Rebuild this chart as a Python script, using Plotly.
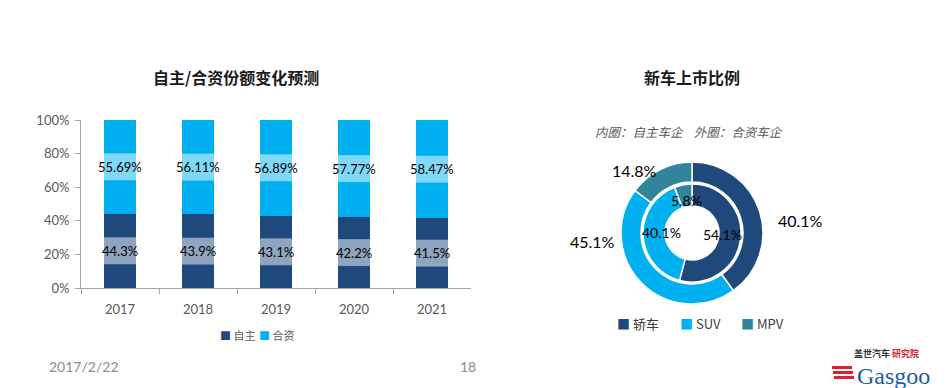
import math
import plotly.graph_objects as go

# ---------------- data ----------------
years = ["2017", "2018", "2019", "2020", "2021"]
own_share = [44.3, 43.9, 43.1, 42.2, 41.5]          # 自主
jv_share = [55.69, 56.11, 56.89, 57.77, 58.47]      # 合资
own_labels = ["44.3%", "43.9%", "43.1%", "42.2%", "41.5%"]
jv_labels = ["55.69%", "56.11%", "56.89%", "57.77%", "58.47%"]
y_ticks = [0, 20, 40, 60, 80, 100]
y_tick_text = ["0%", "20%", "40%", "60%", "80%", "100%"]

car_types = ["轿车", "SUV", "MPV"]
inner_own = [54.1, 40.1, 5.8]      # 内圈：自主车企
outer_jv = [40.1, 45.1, 14.8]      # 外圈：合资车企

C_DARK = "#1F497D"
C_LIGHT = "#00B0F0"
C_TEAL = "#31849B"
PIE_COLORS = [C_DARK, C_LIGHT, C_TEAL]
W, H = 947, 388
OFF = 8  # page body margin
FONT = "Lato, Noto Sans CJK SC, sans-serif"
CJK = "Noto Sans CJK SC, sans-serif"
BARGAP = 0.59

# layout-only positions (pixels) for the outer ring labels
outer_label_pos = [(800, 220), (592, 241), (634, 171)]


def px(x):
    return (x - OFF) / W


def py(y):
    return (H + OFF - y) / H


def txt(x, y, text, size, color="#000000", family=FONT, xa="center", ya="middle"):
    return dict(x=px(x), y=py(y), xref="paper", yref="paper", text=text, showarrow=False,
                xanchor=xa, yanchor=ya, font=dict(family=family, size=size, color=color))


fig = go.Figure()

fig.add_trace(go.Bar(x=years, y=own_share, name="自主", marker_color=C_DARK,
                     marker_line_width=0, showlegend=False))
fig.add_trace(go.Bar(x=years, y=jv_share, name="合资", marker_color=C_LIGHT,
                     marker_line_width=0, showlegend=False))

annotations = []
shapes = []
# value labels with translucent boxes (x given as category index)
half_w = (1 - BARGAP) / 2
for i, yr in enumerate(years):
    for yv, t in ((own_share[i] / 2, own_labels[i]),
                  (own_share[i] + jv_share[i] / 2, jv_labels[i])):
        shapes.append(dict(type="rect", xref="x", yref="y", x0=i - half_w, x1=i + half_w,
                           y0=yv - 8, y1=yv + 8, fillcolor="rgba(255,255,255,0.5)",
                           line_width=0, layer="above"))
        annotations.append(dict(x=i, y=yv, xref="x", yref="y", text=t,
                                showarrow=False, xanchor="center", yanchor="middle",
                                font=dict(family=FONT, size=13, color="#000000")))

# donut
cx, cy = 692, 233
r_out, r_in = 71, 49
fig.add_trace(go.Pie(labels=car_types, values=outer_jv, sort=False, direction="clockwise",
                     rotation=0, hole=51 / 71, marker=dict(colors=PIE_COLORS, line=dict(color="white", width=1.5)),
                     domain=dict(x=[px(cx - r_out), px(cx + r_out)], y=[py(cy + r_out), py(cy - r_out)]),
                     textinfo="none", showlegend=False, hoverinfo="label+percent"))
fig.add_trace(go.Pie(labels=car_types, values=inner_own, sort=False, direction="clockwise",
                     rotation=0, hole=27 / 49, marker=dict(colors=PIE_COLORS, line=dict(color="white", width=1.5)),
                     domain=dict(x=[px(cx - r_in), px(cx + r_in)], y=[py(cy + r_in), py(cy - r_in)]),
                     textinfo="none", showlegend=False, hoverinfo="label+percent"))

# inner ring labels, placed along each slice's mid angle
cum = 0.0
tot = sum(inner_own)
for v in inner_own:
    mid = (cum + v / 2) / tot * 2 * math.pi
    cum += v
    annotations.append(txt(cx + 31 * math.sin(mid), cy - 2 - 31 * math.cos(mid), f"{v}%", 14))
for v, (lx, ly) in zip(outer_jv, outer_label_pos):
    annotations.append(txt(lx, ly, f"{v}%", 16))

# titles and texts
annotations += [
    txt(236, 77, "<b>自主/合资份额变化预测</b>", 16, "#1a1a1a", CJK),
    txt(692, 77, "<b>新车上市比例</b>", 16, "#1a1a1a", CJK),
    txt(689, 132, "<i>内圈：自主车企    外圈：合资车企</i>", 12.5, "#595959", CJK),
    txt(47, 366, "2017/2/22", 14, "#8c8c8c", xa="left"),
    txt(468, 366, "18", 14, "#8c8c8c"),
    txt(886, 353, "<b>盖世汽车</b> <span style='color:#E0202A'><b>研究院</b></span>", 9, "#333333", CJK),
    txt(893, 376, "Gasgoo", 24, "#1B5BA6", "Liberation Serif, serif"),
]

# legends (drawn as text with coloured squares)
bar_leg = [("自主", C_DARK, 218), ("合资", C_LIGHT, 257)]
for name, col, x0 in bar_leg:
    annotations.append(txt(x0, 335, f"<span style='color:{col}'>■</span> {name}", 11, "#595959", CJK, xa="left"))
pie_leg_x = [615, 678, 739]
for name, col, x0 in zip(car_types, PIE_COLORS, pie_leg_x):
    annotations.append(txt(x0, 323, f"<span style='color:{col}'>■</span> {name}", 13, "#404040", CJK, xa="left"))

for k in range(3):
    shapes.append(dict(type="rect", xref="paper", yref="paper",
                       x0=px(832 + k), x1=px(852 + k), y0=py(369 + k * 5), y1=py(366 + k * 5),
                       fillcolor="#E0202A", line_width=0))

fig.update_layout(
    width=W, height=H,
    margin=dict(l=0, r=0, t=0, b=0, autoexpand=False),
    paper_bgcolor="white", plot_bgcolor="white",
    barmode="stack", bargap=BARGAP,
    font=dict(family=FONT, size=13, color="#595959"),
    xaxis=dict(type="category", range=[-0.5, len(years) - 0.5], domain=[px(81), px(471)],
               showgrid=False, showline=True, linecolor="#A6A6A6",
               ticks="outside", tickson="boundaries", ticklen=5, tickcolor="#A6A6A6", automargin=False,
               ticklabelstandoff=9,
               tickfont=dict(family=FONT, size=13, color="#595959")),
    yaxis=dict(domain=[py(288), py(120)], range=[0, 100], tickvals=y_ticks, ticktext=y_tick_text,
               showgrid=False, zeroline=False, showline=True, linecolor="#A6A6A6", automargin=False,
               ticks="outside", ticklen=5, tickcolor="#A6A6A6", ticklabelstandoff=3,
               tickfont=dict(family=FONT, size=13, color="#595959")),
    annotations=annotations,
    shapes=shapes,
    showlegend=False,
)

fig.write_html("out.html")
